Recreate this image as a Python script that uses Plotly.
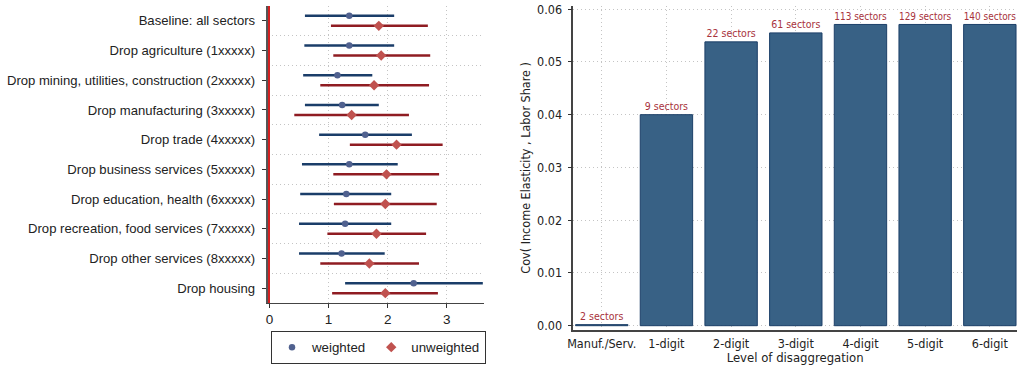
import plotly.graph_objects as go

# ---- left panel: coefficient estimates with confidence intervals ----
specs = [
    "Baseline: all sectors",
    "Drop agriculture (1xxxxx)",
    "Drop mining, utilities, construction (2xxxxx)",
    "Drop manufacturing (3xxxxx)",
    "Drop trade (4xxxxx)",
    "Drop business services (5xxxxx)",
    "Drop education, health (6xxxxx)",
    "Drop recreation, food services (7xxxxx)",
    "Drop other services (8xxxxx)",
    "Drop housing",
]
w_est = [1.35, 1.35, 1.15, 1.23, 1.62, 1.35, 1.30, 1.28, 1.22, 2.44]
w_lo = [0.60, 0.59, 0.57, 0.60, 0.84, 0.55, 0.52, 0.50, 0.50, 1.28]
w_hi = [2.11, 2.11, 1.74, 1.85, 2.41, 2.17, 2.06, 2.06, 1.95, 3.61]
u_est = [1.85, 1.89, 1.77, 1.39, 2.15, 1.98, 1.96, 1.81, 1.69, 1.96]
u_lo = [1.04, 1.08, 0.86, 0.42, 1.36, 1.08, 1.09, 0.98, 0.86, 1.06]
u_hi = [2.68, 2.72, 2.70, 2.36, 2.93, 2.87, 2.83, 2.65, 2.53, 2.85]

# ---- right panel: covariance by level of aggregation ----
levels = ["Manuf./Serv.", "1-digit", "2-digit", "3-digit", "4-digit", "5-digit", "6-digit"]
cov_vals = [0.0002, 0.0400, 0.0538, 0.0555, 0.0571, 0.0571, 0.0571]
n_sectors = ["2 sectors", "9 sectors", "22 sectors", "61 sectors",
             "113 sectors", "129 sectors", "140 sectors"]

W, H = 1029, 365
FONT = "Liberation Sans, Arial, sans-serif"
NARROW = "Liberation Sans Narrow, Arial Narrow, DejaVu Sans Condensed, sans-serif"
NAVY, NAVY_PT = "#1a3d69", "#50618f"
MAROON, MAROON_PT = "#8f1c22", "#c0524f"
OFFSET = 0.168

rows = list(range(len(specs)))

fig = go.Figure()
fig.add_trace(go.Scatter(
    x=w_est, y=[r - OFFSET for r in rows], mode="markers", name="weighted",
    marker=dict(symbol="circle", size=6.5, color=NAVY_PT),
    error_x=dict(type="data", symmetric=False,
                 array=[h - e for h, e in zip(w_hi, w_est)],
                 arrayminus=[e - l for e, l in zip(w_est, w_lo)],
                 color=NAVY, thickness=2.5, width=0),
    xaxis="x", yaxis="y", cliponaxis=False,
))
fig.add_trace(go.Scatter(
    x=u_est, y=[r + OFFSET for r in rows], mode="markers", name="unweighted",
    marker=dict(symbol="diamond", size=8, color=MAROON_PT),
    error_x=dict(type="data", symmetric=False,
                 array=[h - e for h, e in zip(u_hi, u_est)],
                 arrayminus=[e - l for e, l in zip(u_est, u_lo)],
                 color=MAROON, thickness=2.5, width=0),
    xaxis="x", yaxis="y", cliponaxis=False,
))

fig.add_trace(go.Bar(
    x=levels, y=cov_vals, text=n_sectors, textposition="outside",
    textfont=dict(family=NARROW, size=10.5, color="#a8323c"),
    marker=dict(color="#386185", line=dict(color="#1c3f68", width=1)),
    width=0.81, showlegend=False, cliponaxis=False,
    xaxis="x2", yaxis="y2",
))


def px_x(p):
    return p / W


def px_y(p):
    return 1 - p / H


DOT = "1px,3px"
grid_dot = dict(showgrid=True, gridcolor="#c4c4c4", griddash=DOT, gridwidth=1)

fig.update_layout(
    width=W, height=H,
    margin=dict(l=0, r=0, t=0, b=0, autoexpand=False),
    plot_bgcolor="white", paper_bgcolor="white",
    font=dict(family=FONT, size=13, color="#222"),
    bargap=0.19,
    xaxis=dict(
        anchor="y", automargin=False,
        domain=[px_x(267.7), px_x(484)], range=[-0.03, 3.63],
        tickvals=[0, 1, 2, 3], ticks="outside", ticklen=4, tickcolor="#333",
        showline=True, linecolor="#444", linewidth=1,
        zeroline=True, zerolinecolor="#d42020", zerolinewidth=1.5,
        tickfont=dict(size=13.5), **grid_dot,
    ),
    yaxis=dict(
        anchor="x", automargin=False,
        domain=[px_y(303), px_y(6)], range=[9.5, -0.5],
        tickvals=rows, ticktext=specs, ticks="outside", ticklen=4, tickcolor="#333",
        ticklabelstandoff=4,
        showline=True, linecolor="#555", linewidth=2, showgrid=False, zeroline=False,
        tickfont=dict(size=13.1),
        minor=dict(tick0=0.5, dtick=1, showgrid=True, gridcolor="#c4c4c4",
                   griddash=DOT, gridwidth=1, ticks=""),
    ),
    xaxis2=dict(
        anchor="y2", automargin=False,
        domain=[px_x(573.3), px_x(1017)], range=[-0.44, 6.42],
        ticks="", ticklabelstandoff=2,
        showline=True, linecolor="#444", linewidth=1.5,
        tickfont=dict(family=NARROW, size=12.5),
        title=dict(text="Level of disaggregation", standoff=4,
                   font=dict(family=NARROW, size=13)),
        **grid_dot,
    ),
    yaxis2=dict(
        anchor="x2", automargin=False,
        domain=[px_y(329.7), px_y(6)], range=[-0.00076, 0.0606],
        tickvals=[0, 0.01, 0.02, 0.03, 0.04, 0.05, 0.06], tickformat=".2f",
        ticks="outside", ticklen=4, tickcolor="#333", ticklabelstandoff=3,
        showline=True, linecolor="#444", linewidth=1.5, zeroline=False,
        tickfont=dict(family=NARROW, size=12.5),
        title=dict(text="Cov( Income Elasticity , Labor Share )", standoff=4,
                   font=dict(family=NARROW, size=12.5)),
        **grid_dot,
    ),
    legend=dict(
        orientation="h", x=px_x(271), y=px_y(331), xanchor="left", yanchor="top",
        bordercolor="#333", borderwidth=1, font=dict(size=13.3),
        itemwidth=30, tracegroupgap=0,
    ),
)

fig.write_html("out.html")
